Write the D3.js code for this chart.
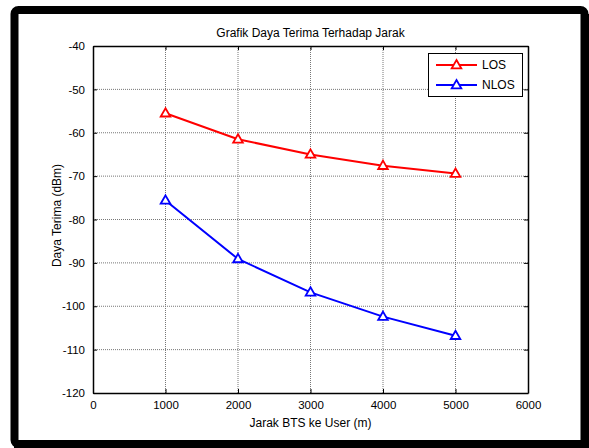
<!DOCTYPE html>
<html>
<head>
<meta charset="utf-8">
<script src="https://cdn.jsdelivr.net/npm/d3@7"></script>
<style>
  body { margin: 0; background: #fff; }
  text { font-family: "Liberation Sans", Arial, sans-serif; fill: #000; }
</style>
</head>
<body>
<div id="chart"></div>
<script>
// data
let jarak = [1000, 2000, 3000, 4000, 5000];
let dataLOS = [-55.5, -61.5, -65, -67.6, -69.4];
let dataNLOS = [-75.6, -89.1, -96.8, -102.4, -106.8];
let seriesNames = ['LOS', 'NLOS'];
let seriesColors = ['#ff0000', '#0000ff'];
let xTicks = [0, 1000, 2000, 3000, 4000, 5000, 6000];
let yTicks = [-40, -50, -60, -70, -80, -90, -100, -110, -120];

let width = 589;
let height = 448;

const margin = {
    top: 46,
    left: 93,
    bottom: 55,
    right: 61,
};

let svg = d3.select('#chart').append('svg')
    .attr('width', width)
    .attr('height', height);

// frame round the figure
svg.append('rect')
    .attr('x', 14.5).attr('y', 10).attr('width', 570).attr('height', 434)
    .attr('rx', 4)
    .attr('fill', '#fff').attr('stroke', '#000').attr('stroke-width', 8);
svg.append('rect')
    .attr('x', 581).attr('y', 14).attr('width', 8).attr('height', 434).attr('fill', '#000');
svg.append('rect')
    .attr('x', 14).attr('y', 440).attr('width', 575).attr('height', 8).attr('fill', '#000');

let plotW = 435;
let plotH = 393 - margin.top;

let g = svg.append('g').attr('transform', 'translate(' + margin.left + ',' + margin.top + ')');

//-----scales-------
let x = d3.scaleLinear().domain([0, 6000]).range([0, plotW]);
let y = d3.scaleLinear().domain([-120, -40]).range([plotH, 0]);

//-----grid-------
g.append('g').selectAll('line')
    .data(xTicks.slice(1, -1))
    .enter().append('line')
        .attr('x1', d => x(d)).attr('x2', d => x(d))
        .attr('y1', 0).attr('y2', plotH)
        .attr('stroke', '#777').attr('stroke-dasharray', '1,1');
g.append('g').selectAll('line')
    .data(yTicks.slice(1, -1))
    .enter().append('line')
        .attr('y1', d => y(d)).attr('y2', d => y(d))
        .attr('x1', 0).attr('x2', plotW)
        .attr('stroke', '#777').attr('stroke-dasharray', '1,1');

//-----axes (ticks inside, all four sides)-------
let fmt = d => String(d);
let xAxis = d3.axisBottom(x).tickValues(xTicks).tickFormat(fmt).tickSizeInner(-4).tickSizeOuter(0).tickPadding(8);
let yAxis = d3.axisLeft(y).tickValues(yTicks).tickFormat(fmt).tickSizeInner(-4).tickSizeOuter(0).tickPadding(8);

let gx = g.append('g').attr('transform', 'translate(0,' + plotH + ')').call(xAxis);
let gy = g.append('g').call(yAxis);
let gxTop = g.append('g').call(d3.axisTop(x).tickValues(xTicks).tickSizeInner(-4).tickSizeOuter(0).tickFormat(''));
let gyRight = g.append('g').attr('transform', 'translate(' + plotW + ',0)')
    .call(d3.axisRight(y).tickValues(yTicks).tickSizeInner(-4).tickSizeOuter(0).tickFormat(''));

[gx, gy, gxTop, gyRight].forEach(a => {
    a.select('.domain').attr('stroke', '#000').attr('stroke-width', 1.5);
    a.selectAll('.tick line').attr('stroke', '#000');
    a.selectAll('.tick text').style('font-family', '"Liberation Sans", Arial, sans-serif')
        .style('font-size', '11.5px').attr('fill', '#000');
});

//-----lines-------
let line = d3.line().x((d, i) => x(jarak[i])).y(d => y(d));
let tri = d3.symbol().type(d3.symbolTriangle).size(40);

[dataLOS, dataNLOS].forEach((data, k) => {
    g.append('path')
        .datum(data)
        .attr('d', line)
        .attr('fill', 'none')
        .attr('stroke', seriesColors[k])
        .attr('stroke-width', 2);
    g.selectAll('.m' + k)
        .data(data)
        .enter().append('path')
            .attr('class', 'm' + k)
            .attr('d', tri)
            .attr('transform', (d, i) => 'translate(' + x(jarak[i]) + ',' + (y(d) + 0.5) + ')')
            .attr('fill', '#fff')
            .attr('stroke', seriesColors[k])
            .attr('stroke-width', 1.8);
});

//-----legend-------
let leg = g.append('g').attr('transform', 'translate(' + (428 - margin.left) + ',' + (53 - margin.top) + ')');
leg.append('rect')
    .attr('x', 0.5).attr('y', 0.5).attr('width', 94).attr('height', 43)
    .attr('fill', '#fff').attr('stroke', '#000');
seriesNames.forEach((name, k) => {
    let ly = 12 + k * 20;
    leg.append('line')
        .attr('x1', 8).attr('x2', 49).attr('y1', ly).attr('y2', ly)
        .attr('stroke', seriesColors[k]).attr('stroke-width', 2);
    leg.append('path')
        .attr('d', tri)
        .attr('transform', 'translate(28.5,' + (ly + 0.5) + ')')
        .attr('fill', '#fff').attr('stroke', seriesColors[k]).attr('stroke-width', 1.8);
    leg.append('text')
        .attr('x', 54).attr('y', ly).attr('dy', '0.36em')
        .style('font-size', '12px')
        .text(name);
});

//-----labels-------
svg.append('text')
    .attr('x', margin.left + plotW / 2).attr('y', 37)
    .attr('text-anchor', 'middle')
    .style('font-size', '12px')
    .text('Grafik Daya Terima Terhadap Jarak');
svg.append('text')
    .attr('x', margin.left + plotW / 2).attr('y', 427)
    .attr('text-anchor', 'middle')
    .style('font-size', '12px')
    .text('Jarak BTS ke User (m)');
svg.append('text')
    .attr('transform', 'translate(61,' + (margin.top + plotH / 2 - 4) + ') rotate(-90)')
    .attr('text-anchor', 'middle')
    .style('font-size', '12px')
    .text('Daya Terima (dBm)');
</script>
</body>
</html>
